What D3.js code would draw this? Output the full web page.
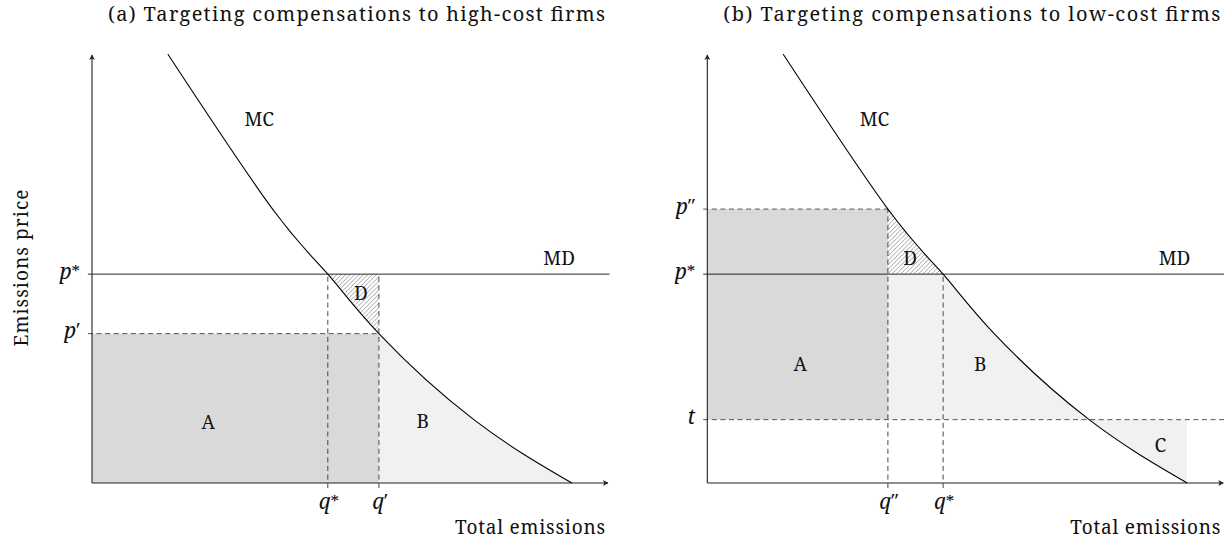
<!DOCTYPE html>
<html>
<head>
<meta charset="utf-8">
<script src="https://cdn.jsdelivr.net/npm/d3@7"></script>
<style>
  html, body { margin: 0; padding: 0; background: #fff; }
  svg { display: block; }
</style>
</head>
<body>
<svg id="chart" width="1224" height="541"></svg>
<script>
// Marginal cost (MC) curve, shared by both panels
const mcX = [1.47, 3.50, 4.57, 5.56, 7.40, 9.30];
const mcY = [10.02, 6.40, 4.88, 3.49, 1.48, 0];

// Prices and quantities marked on the axes
const priceNames = ["pStar", "pPrime", "pDouble", "t"];
const priceValues = [4.88, 3.49, 6.40, 1.48];
const qtyNames = ["qStar", "qPrime", "qDouble", "qT", "qEnd"];
const qtyValues = [4.57, 5.56, 3.50, 7.40, 9.30];

const titles = [
  "(a) Targeting compensations to high-cost firms",
  "(b) Targeting compensations to low-cost firms"
];
const xAxisLabel = "Total emissions";
const yAxisLabel = "Emissions price";

const P = Object.fromEntries(priceNames.map((k, i) => [k, priceValues[i]]));
const Q = Object.fromEntries(qtyNames.map((k, i) => [k, qtyValues[i]]));

const FONT = "Noto Serif";
const svg = d3.select("#chart");
const y = d3.scaleLinear().domain([0, 10]).range([483, 55]);
const DARK = "#d9d9d9", LIGHT = "#f1f1f1";

// every label goes through here so it gets the serif face
const addText = (sel) => sel.append("text").style("font-family", FONT).attr("fill", "#111");

const defs = svg.append("defs");
// north-east hatch
const pat = defs.append("pattern").attr("id", "hatch")
  .attr("patternUnits", "userSpaceOnUse").attr("width", 4.4).attr("height", 4.4);
pat.append("path").attr("d", "M-1,1 L1,-1 M0,4.4 L4.4,0 M3.4,5.4 L5.4,3.4")
  .attr("stroke", "#555").attr("stroke-width", 0.55);
// axis arrow head
defs.append("marker").attr("id", "arrow").attr("viewBox", "-6 -4 7 8")
  .attr("refX", 0).attr("refY", 0).attr("markerWidth", 7).attr("markerHeight", 8)
  .attr("markerUnits", "userSpaceOnUse").attr("orient", "auto")
  .append("path").attr("d", "M0.5,0 L-5,-3 L-3.6,0 L-5,3 Z").attr("fill", "#222");

const mcPts = mcX.map((v, i) => [v, mcY[i]]);

function panel(idx, x0) {
  const x = d3.scaleLinear().domain([0, 10]).range([x0, x0 + 516]);
  const g = svg.append("g");
  const curve = d3.curveNatural;
  const line = d3.line().x(d => x(d[0])).y(d => y(d[1])).curve(curve);
  const under = d3.area().x(d => x(d[0])).y0(y(0)).y1(d => y(d[1])).curve(curve);
  const above = d3.area().x(d => x(d[0])).y0(y(11)).y1(d => y(d[1])).curve(curve);
  defs.append("clipPath").attr("id", "under" + idx).append("path").attr("d", under(mcPts));
  defs.append("clipPath").attr("id", "above" + idx).append("path").attr("d", above(mcPts));

  const rect = (x1, x2, y1, y2, fill, clip) => {
    const r = g.append("rect")
      .attr("x", x(x1)).attr("width", x(x2) - x(x1))
      .attr("y", y(y2)).attr("height", y(y1) - y(y2))
      .attr("fill", fill);
    if (clip) r.attr("clip-path", `url(#${clip}${idx})`);
  };
  const hline = (v, a, b, dashed, color) => g.append("line")
    .attr("x1", x(a)).attr("x2", x(b)).attr("y1", y(v)).attr("y2", y(v))
    .attr("stroke", color || "#111").attr("stroke-width", 0.9)
    .attr("stroke-dasharray", dashed ? "5,3.6" : null);
  const vline = (v, a, b) => g.append("line")
    .attr("x1", x(v)).attr("x2", x(v)).attr("y1", y(a)).attr("y2", y(b))
    .attr("stroke", "#333").attr("stroke-width", 0.9).attr("stroke-dasharray", "5,3.6");

  const lineEnd = 10.03, lineStart = -0.08, below = -0.12;
  const lbl = (txt, cx, cy) => addText(g).attr("x", x(cx)).attr("y", y(cy))
    .attr("dy", "0.36em").attr("text-anchor", "middle").attr("font-size", 19).text(txt);

  if (idx === 0) {
    rect(0, Q.qPrime, 0, P.pPrime, DARK);
    rect(Q.qPrime, Q.qEnd, 0, P.pPrime, LIGHT, "under");
    rect(Q.qStar, Q.qPrime, P.pPrime, P.pStar, "url(#hatch)", "above");
    hline(P.pPrime, lineStart, Q.qPrime, true, "#444");
    vline(Q.qStar, below, P.pStar);
    vline(Q.qPrime, below, P.pStar);
    lbl("A", 2.25, 1.43); lbl("B", 6.41, 1.45); lbl("D", 5.21, 4.44);
  } else {
    rect(0, Q.qDouble, P.t, P.pDouble, DARK);
    rect(Q.qDouble, Q.qEnd, P.t, P.pStar, LIGHT, "under");
    rect(Q.qT, Q.qEnd, 0, P.t, LIGHT, "above");
    rect(Q.qDouble, Q.qStar, P.pStar, P.pDouble, "url(#hatch)", "under");
    hline(P.pDouble, lineStart, Q.qDouble, true, "#444");
    hline(P.t, lineStart, lineEnd, true, "#444");
    vline(Q.qDouble, below, P.pDouble);
    vline(Q.qStar, below, P.pStar);
    lbl("A", 1.80, 2.78); lbl("B", 5.29, 2.78); lbl("D", 3.93, 5.26); lbl("C", 8.78, 0.89);
  }
  // marginal damage
  hline(P.pStar, lineStart, lineEnd, false);
  // axes
  g.append("line").attr("x1", x(0)).attr("x2", x(0)).attr("y1", y(0)).attr("y2", y(10))
    .attr("stroke", "#222").attr("stroke-width", 1.1).attr("marker-end", "url(#arrow)");
  g.append("line").attr("x1", x(0)).attr("x2", x(10)).attr("y1", y(0)).attr("y2", y(0))
    .attr("stroke", "#222").attr("stroke-width", 1.1).attr("marker-end", "url(#arrow)");
  // MC curve
  g.append("path").attr("d", line(mcPts)).attr("fill", "none")
    .attr("stroke", "#000").attr("stroke-width", 1.1);

  lbl("MC", 3.24, 8.50);
  addText(g).attr("x", x(9.36)).attr("y", y(P.pStar) - 9)
    .attr("text-anchor", "end").attr("font-size", 19).text("MD");

  // price labels on the vertical axis
  const priceLbl = (v, sup, supSize, supDy) => {
    const t = addText(g).attr("x", x(0) - 12).attr("y", y(v) + 4.5)
      .attr("text-anchor", "end").attr("font-size", 21);
    t.append("tspan").attr("font-style", "italic").text(v === P.t ? "t" : "p");
    if (sup) t.append("tspan").attr("font-size", supSize).attr("dy", supDy).text(sup);
  };
  const qtyLbl = (v, sup, supSize, supDy) => {
    const t = addText(g).attr("x", x(v) + 1).attr("y", y(0) + 26)
      .attr("text-anchor", "middle").attr("font-size", 21);
    t.append("tspan").attr("font-style", "italic").text("q");
    if (sup) t.append("tspan").attr("font-size", supSize).attr("dy", supDy).text(sup);
  };
  priceLbl(P.pStar, "*", 17, -1);
  qtyLbl(Q.qStar, "*", 17, -1);
  if (idx === 0) {
    priceLbl(P.pPrime, "′", 20, -1);
    qtyLbl(Q.qPrime, "′", 20, -1);
  } else {
    priceLbl(P.pDouble, "″", 20, -1);
    priceLbl(P.t, null);
    qtyLbl(Q.qDouble, "″", 20, -1);
  }

  // axis title and panel title
  addText(g).attr("x", x(10) - 3).attr("y", 534).attr("text-anchor", "end")
    .attr("font-size", 19).attr("textLength", 150).attr("lengthAdjust", "spacing").text(xAxisLabel);
  addText(g).attr("x", x(10) - 3).attr("y", 21).attr("text-anchor", "end")
    .attr("font-size", 20).attr("textLength", 497).attr("lengthAdjust", "spacing").text(titles[idx]);
}

panel(0, 92);
panel(1, 707.3);

addText(svg).attr("transform", "translate(28,268) rotate(-90)")
  .attr("text-anchor", "middle").attr("font-size", 19)
  .attr("textLength", 157).attr("lengthAdjust", "spacing").text(yAxisLabel);
</script>
</body>
</html>
